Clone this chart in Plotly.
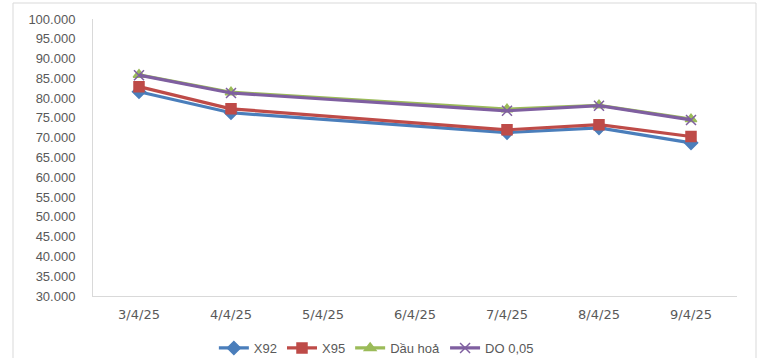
import plotly.graph_objects as go

dates = ["3/4/25", "4/4/25", "5/4/25", "6/4/25", "7/4/25", "8/4/25", "9/4/25"]
x92 = [81600, 76300, None, None, 71300, 72500, 68700]
x95 = [82900, 77300, None, None, 72000, 73300, 70300]
dau_hoa = [85900, 81500, None, None, 77200, 78200, 74700]
do005 = [85800, 81300, None, None, 76800, 78100, 74500]
y_ticks = list(range(30000, 100001, 5000))

series = [
    ("X92", x92, "#4A7EBB", "diamond", 10),
    ("X95", x95, "#BE4B48", "square", 10),
    ("Dầu hoả", dau_hoa, "#9BBB59", "triangle-up", 10),
    ("DO 0,05", do005, "#7F5FA0", "x-thin-open", 10),
]

fig = go.Figure()
for name, vals, color, sym, size in series:
    fig.add_trace(go.Scatter(
        x=dates, y=vals, name=name, mode="lines+markers",
        connectgaps=True,
        line=dict(color=color, width=3.2),
        marker=dict(symbol=sym, size=size, color=color,
                    line=dict(color=color, width=1.5)),
    ))

L, R, T, B = 93, 34, 19, 62
W, H = 771, 358
pw, ph = W - L - R, H - T - B
plot_bottom = H - B

fig.update_layout(
    width=W, height=H,
    margin=dict(l=L, r=R, t=T, b=B, autoexpand=False),
    paper_bgcolor="white", plot_bgcolor="white",
    separators=",.",
    font=dict(family="Liberation Sans, Arial, sans-serif", size=13, color="#595959"),
    showlegend=True,
    legend=dict(orientation="h", x=0.44, xanchor="center",
                y=(plot_bottom - 348) / ph, yanchor="middle",
                font=dict(size=13, color="#595959"), itemwidth=30,
                traceorder="normal"),
    xaxis=dict(type="category", showgrid=False, showline=True, linecolor="#D9D9D9",
               linewidth=1, ticks="", tickfont=dict(family="DejaVu Sans", size=13, color="#595959"),
               ticklabelstandoff=6,
               range=[-0.5, 6.5], zeroline=False),
    yaxis=dict(range=[30000, 100000], tickvals=y_ticks, tickformat=",d",
               showgrid=False, showline=True, linecolor="#D9D9D9", linewidth=1,
               ticks="", ticklabelstandoff=14, zeroline=False,
               tickfont=dict(size=13, color="#595959")),
)

# chart frame border
fig.add_shape(type="rect", xref="paper", yref="paper",
              x0=(13 - L) / pw, x1=(756 - L) / pw,
              y0=(plot_bottom - 380) / ph, y1=(plot_bottom - 3) / ph,
              line=dict(color="#D9D9D9", width=1), fillcolor="rgba(0,0,0,0)", layer="below")

fig.write_html("out.html", config={"displayModeBar": False},
               post_script="document.body.style.margin='0px';document.body.style.overflow='hidden';")
